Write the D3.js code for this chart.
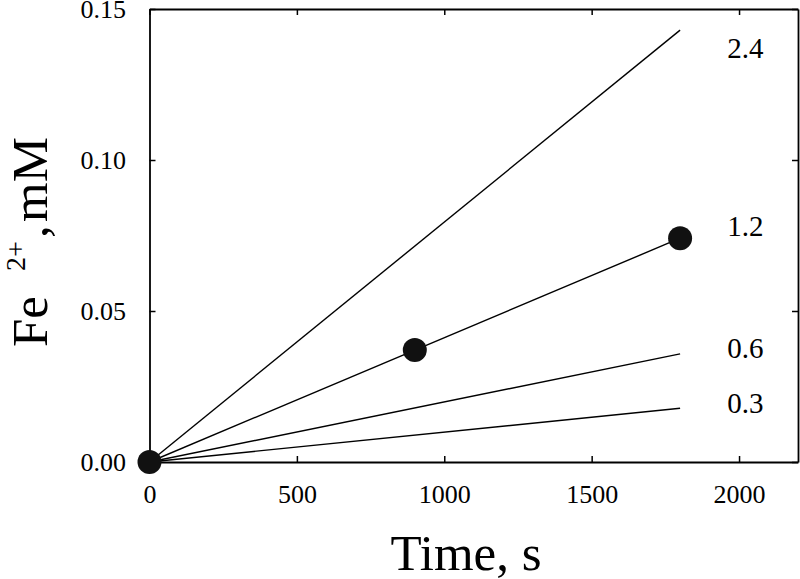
<!DOCTYPE html>
<html>
<head>
<meta charset="utf-8">
<script src="https://cdn.jsdelivr.net/npm/d3@7"></script>
<style>
  body { margin: 0; background: #fff; }
</style>
</head>
<body>
<div id="chart"></div>
<script>
// Fe2+ formation over time, one line per concentration
const lineLabels = ["2.4", "1.2", "0.6", "0.3"];
const lineTimes = [0, 1800];
const lineEnds = [0.143, 0.0741, 0.0358, 0.0178];

// measured points on the 1.2 line
const pointTimes = [0, 900, 1800];
const pointValues = [0, 0.0371, 0.0741];

// where the line labels sit (data units)
const labelTime = 1960;
const labelValues = [0.1338, 0.0748, 0.0344, 0.0162];

const xTicks = [0, 500, 1000, 1500, 2000];
const yTicks = [0, 0.05, 0.10, 0.15];

const width = 800;
const height = 579;
const plot = { left: 149.5, right: 798, top: 9, bottom: 462 };
const serif = '"Liberation Serif", "Times New Roman", serif';

const svg = d3.select("#chart").append("svg")
    .attr("width", width)
    .attr("height", height)
    .style("font-family", serif);

const x = d3.scaleLinear().domain([0, 2200]).range([plot.left, plot.right]);
const y = d3.scaleLinear().domain([0, 0.15]).range([plot.bottom, plot.top]);

// axes with inward ticks, mirrored on top and right
const axisB = svg.append("g")
    .attr("transform", `translate(0,${plot.bottom})`)
    .call(d3.axisBottom(x).tickValues(xTicks).tickSizeInner(-6).tickSizeOuter(0)
        .tickPadding(22.5).tickFormat(d3.format("d")));
const axisT = svg.append("g")
    .attr("transform", `translate(0,${plot.top})`)
    .call(d3.axisTop(x).tickValues(xTicks).tickSizeInner(-6).tickSizeOuter(0).tickFormat(""));
const axisL = svg.append("g")
    .attr("transform", `translate(${plot.left},0)`)
    .call(d3.axisLeft(y).tickValues(yTicks).tickSizeInner(-6).tickSizeOuter(0)
        .tickPadding(23.5).tickFormat(d3.format(".2f")));
const axisR = svg.append("g")
    .attr("transform", `translate(${plot.right},0)`)
    .call(d3.axisRight(y).tickValues(yTicks).tickSizeInner(-6).tickSizeOuter(0).tickFormat(""));

[axisB, axisT, axisL, axisR].forEach(g => {
    g.attr("font-family", serif).attr("font-size", 26);
    g.select(".domain").attr("stroke", "#000").attr("stroke-width", 1.8);
    g.selectAll(".tick line").attr("stroke", "#000").attr("stroke-width", 1.5);
    g.selectAll(".tick text").attr("fill", "#000").style("font-family", serif);
});

// lines
const line = d3.line().x(d => x(d[0])).y(d => y(d[1]));
svg.append("g").selectAll("path")
    .data(lineEnds)
    .join("path")
    .attr("d", v => line(lineTimes.map((t, i) => [t, i === 0 ? 0 : v])))
    .attr("fill", "none")
    .attr("stroke", "#000")
    .attr("stroke-width", 1.4);

// points
svg.append("g").selectAll("circle")
    .data(pointTimes.map((t, i) => [t, pointValues[i]]))
    .join("circle")
    .attr("cx", d => x(d[0]))
    .attr("cy", d => y(d[1]))
    .attr("r", 12)
    .attr("fill", "#111");

// line labels
svg.append("g").selectAll("text")
    .data(lineLabels)
    .join("text")
    .attr("x", x(labelTime))
    .attr("y", (d, i) => y(labelValues[i]))
    .attr("font-size", 29)
    .text(d => d);

// axis titles
svg.append("text")
    .attr("x", 466)
    .attr("y", 570)
    .attr("text-anchor", "middle")
    .attr("font-size", 51)
    .text("Time, s");

const yTitle = svg.append("text")
    .attr("transform", "translate(47,347) rotate(-90)")
    .attr("font-size", 51);
yTitle.append("tspan").attr("x", 0).attr("y", 0).text("Fe");
yTitle.append("tspan").attr("x", 76).attr("y", -22).attr("font-size", 28).text("2+");
yTitle.append("tspan").attr("x", 109).attr("y", 0).text(",");
yTitle.append("tspan").attr("x", 125).attr("y", 0).text("mM");
</script>
</body>
</html>
